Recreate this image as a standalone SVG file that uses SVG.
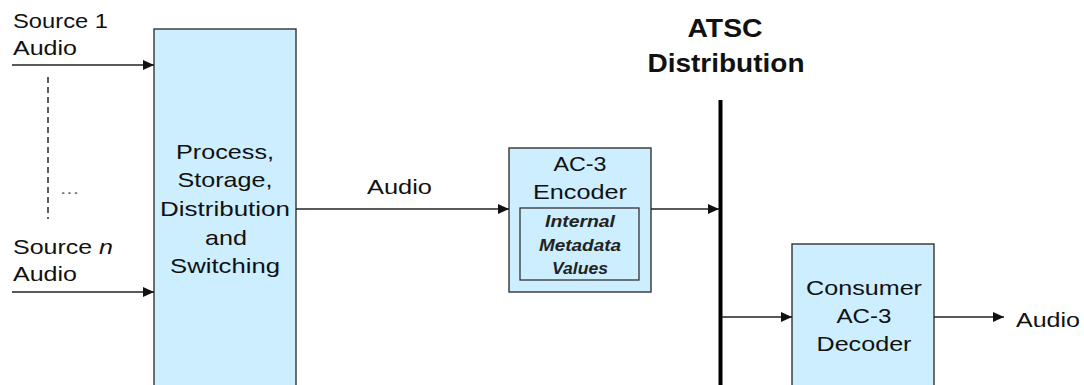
<svg xmlns="http://www.w3.org/2000/svg" width="1084" height="385" viewBox="0 0 1084 385">
<style>
.box{fill:#cceeff;stroke:#333;stroke-width:1.4}
.ln{fill:none;stroke:#222;stroke-width:1.6}
text{font-family:"Liberation Sans",Arial,sans-serif;fill:#111;font-size:21px}
.c{text-anchor:middle}
.b{font-weight:bold;font-size:25px}
.i{font-style:italic;font-weight:bold;font-size:17px;fill:#222}
</style>
<defs>
<marker id="ah" viewBox="0 0 11 10" refX="11" refY="5" markerWidth="11" markerHeight="10" markerUnits="userSpaceOnUse" orient="auto">
<path d="M0,0 L11,5 L0,10 z" fill="#111"/>
</marker>
</defs>
<rect width="1084" height="385" fill="#fff"/>
<g id="sources">
<text x="13" y="28" textLength="95" lengthAdjust="spacingAndGlyphs">Source 1</text>
<text x="13" y="55" textLength="64" lengthAdjust="spacingAndGlyphs">Audio</text>
<text x="13" y="254" textLength="100" lengthAdjust="spacingAndGlyphs">Source <tspan font-style="italic">n</tspan></text>
<text x="13" y="281" textLength="64" lengthAdjust="spacingAndGlyphs">Audio</text>
<line x1="48" y1="77" x2="48" y2="219" stroke="#333" stroke-width="1.6" stroke-dasharray="6,4"/>
<text x="60" y="194" textLength="19" lengthAdjust="spacingAndGlyphs" style="font-size:16px;fill:#777">...</text>
</g>
<g id="process">
<rect class="box" x="154" y="29" width="142" height="370"/>
<text class="c" x="225" y="159" textLength="98" lengthAdjust="spacingAndGlyphs">Process,</text>
<text class="c" x="225" y="187" textLength="95" lengthAdjust="spacingAndGlyphs">Storage,</text>
<text class="c" x="225" y="216" textLength="130" lengthAdjust="spacingAndGlyphs">Distribution</text>
<text class="c" x="226" y="245" textLength="42" lengthAdjust="spacingAndGlyphs">and</text>
<text class="c" x="225" y="273" textLength="110" lengthAdjust="spacingAndGlyphs">Switching</text>
</g>
<g id="encoder">
<rect class="box" x="509" y="148" width="142" height="144"/>
<text class="c" x="580" y="171" textLength="53" lengthAdjust="spacingAndGlyphs">AC-3</text>
<text class="c" x="580" y="199" textLength="94" lengthAdjust="spacingAndGlyphs">Encoder</text>
<rect x="520" y="208" width="119" height="72" fill="#cceeff" stroke="#333" stroke-width="1.3"/>
<text class="c i" x="580" y="227" textLength="70" lengthAdjust="spacingAndGlyphs">Internal</text>
<text class="c i" x="580" y="251" textLength="82" lengthAdjust="spacingAndGlyphs">Metadata</text>
<text class="c i" x="580" y="274" textLength="56" lengthAdjust="spacingAndGlyphs">Values</text>
</g>
<g id="atsc">
<text class="c b" x="725" y="37" textLength="75" lengthAdjust="spacingAndGlyphs">ATSC</text>
<text class="c b" x="726" y="72" textLength="157" lengthAdjust="spacingAndGlyphs">Distribution</text>
<line x1="720.5" y1="100" x2="720.5" y2="385" stroke="#000" stroke-width="4"/>
</g>
<g id="decoder">
<rect class="box" x="792" y="244" width="142" height="160"/>
<text class="c" x="864" y="295" textLength="116" lengthAdjust="spacingAndGlyphs">Consumer</text>
<text class="c" x="864" y="323" textLength="55" lengthAdjust="spacingAndGlyphs">AC-3</text>
<text class="c" x="864" y="351" textLength="95" lengthAdjust="spacingAndGlyphs">Decoder</text>
</g>
<g id="output">
<text x="1016" y="327" textLength="64" lengthAdjust="spacingAndGlyphs">Audio</text>
</g>
<g id="connectors">
<line class="ln" x1="12" y1="65" x2="154" y2="65" marker-end="url(#ah)"/>
<line class="ln" x1="12" y1="292" x2="154" y2="292" marker-end="url(#ah)"/>
<line class="ln" x1="296" y1="209" x2="509" y2="209" marker-end="url(#ah)"/>
<text x="367" y="194" textLength="65" lengthAdjust="spacingAndGlyphs">Audio</text>
<line class="ln" x1="651" y1="209" x2="719" y2="209" marker-end="url(#ah)"/>
<line class="ln" x1="722" y1="317" x2="792" y2="317" marker-end="url(#ah)"/>
<line class="ln" x1="934" y1="317" x2="1004" y2="317" marker-end="url(#ah)"/>
</g>
</svg>
